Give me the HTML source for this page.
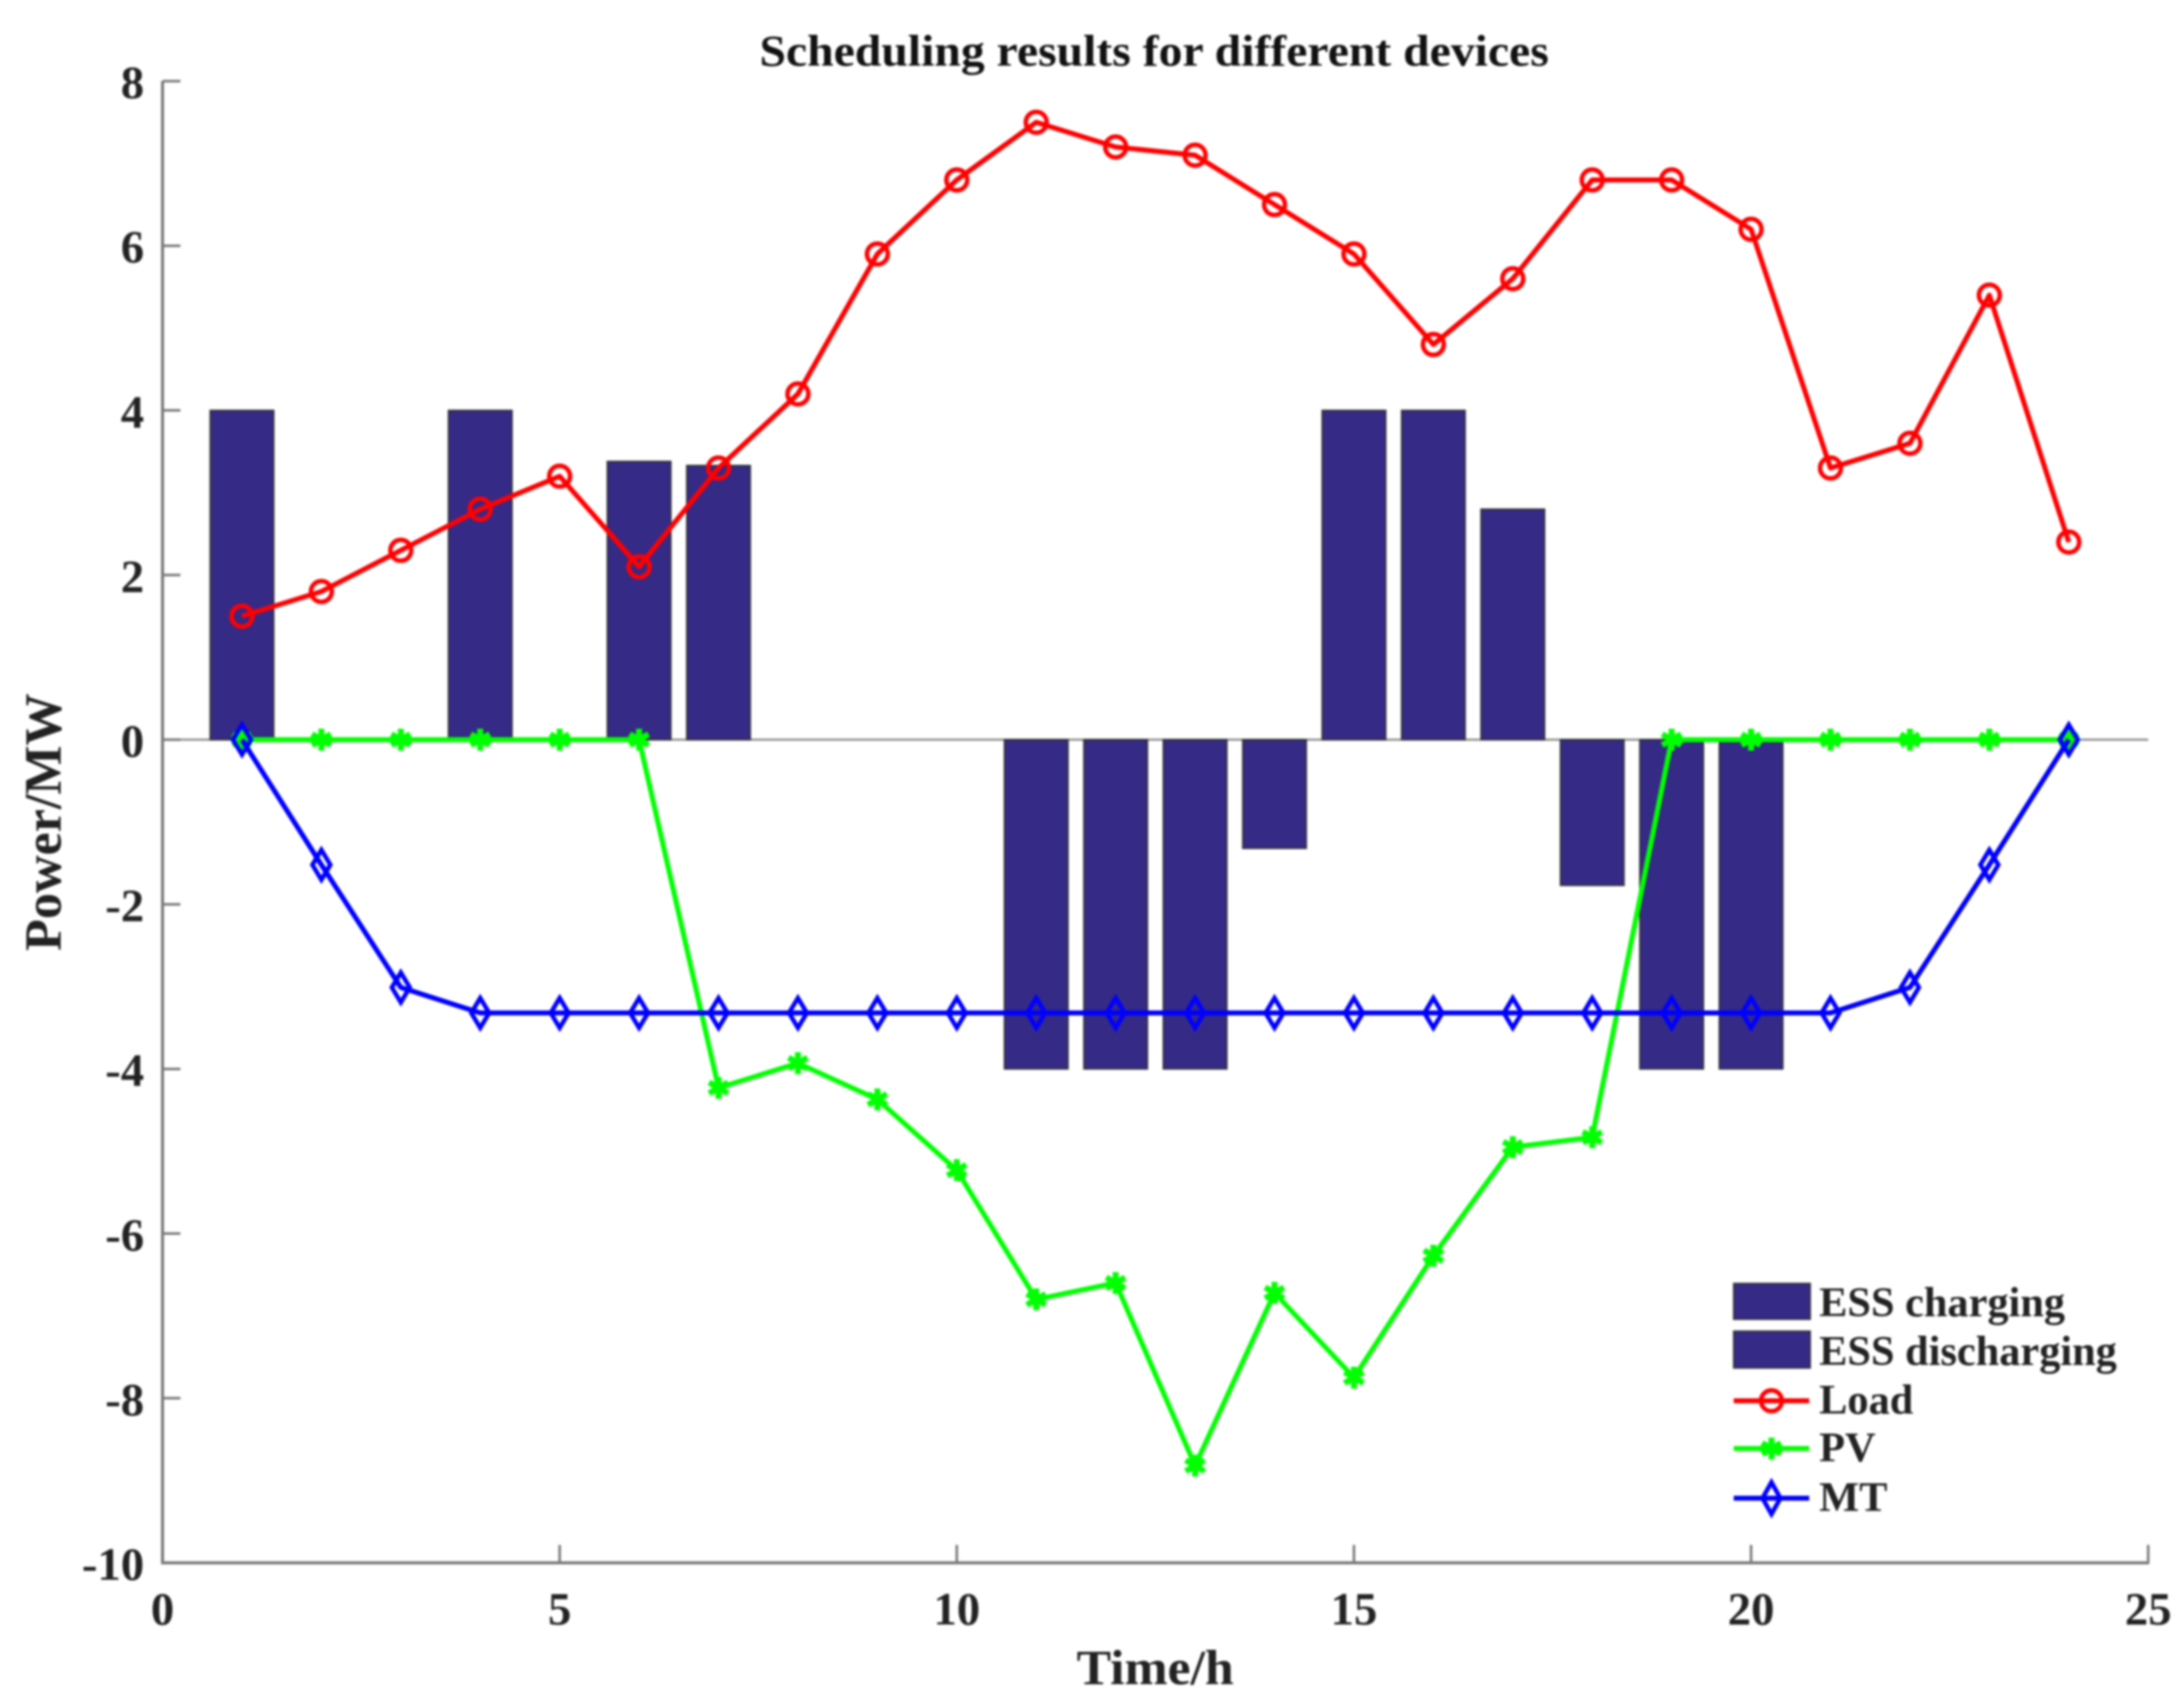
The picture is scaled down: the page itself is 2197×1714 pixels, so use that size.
<!DOCTYPE html>
<html lang="en">
<head>
<meta charset="utf-8">
<title>Scheduling results for different devices</title>
<style>
html,body{margin:0;padding:0;background:#fff;width:2197px;height:1714px;overflow:hidden}
svg{display:block;filter:blur(1px)}
text{font-family:"Liberation Serif",serif;font-weight:bold;fill:#222}
</style>
</head>
<body>
<svg id="chart" xmlns="http://www.w3.org/2000/svg" width="2197" height="1714" viewBox="0 0 2197 1714">
  <rect x="0" y="0" width="2197" height="1714" fill="#fff"/>
  <g id="axes"></g>
  <g id="bars"></g>
  <g id="series"></g>
  <text x="1161" y="66" font-size="44" text-anchor="middle" textLength="794" lengthAdjust="spacingAndGlyphs" style="fill:#111">Scheduling results for different devices</text>
  <text x="1162" y="1694" font-size="50" text-anchor="middle" textLength="158" lengthAdjust="spacingAndGlyphs">Time/h</text>
  <text transform="translate(61,827) rotate(-90)" font-size="53" text-anchor="middle" textLength="259" lengthAdjust="spacingAndGlyphs">Power/MW</text>
  <g id="legend">
    <g>
      <rect x="1744" y="1291" width="77" height="36" fill="#352a86" stroke="#333" stroke-width="1.5"/>
      <text x="1830" y="1324" font-size="42.6">ESS charging</text>
    </g>
    <g>
      <rect x="1744" y="1339" width="77" height="37" fill="#352a86" stroke="#333" stroke-width="1.5"/>
      <text x="1830" y="1373" font-size="42.6">ESS discharging</text>
    </g>
    <g>
      <line x1="1744" x2="1820" y1="1409" y2="1409" stroke="#ff0000" stroke-width="5"/>
      <circle cx="1782" cy="1409" r="10.5" fill="none" stroke="#ff0000" stroke-width="4.5"/>
      <text x="1830" y="1422" font-size="42.6">Load</text>
    </g>
    <g>
      <line x1="1744" x2="1820" y1="1457" y2="1457" stroke="#00ff00" stroke-width="5"/>
      <path d="M1782 1446V1468M1772.5 1451.5L1791.5 1462.5M1772.5 1462.5L1791.5 1451.5" fill="none" stroke="#00ff00" stroke-width="6"/>
      <text x="1830" y="1470" font-size="42.6">PV</text>
    </g>
    <g>
      <line x1="1744" x2="1820" y1="1507" y2="1507" stroke="#0000ff" stroke-width="5"/>
      <path d="M1782 1491L1791 1507L1782 1523L1773 1507Z" fill="none" stroke="#0000ff" stroke-width="4.5"/>
      <text x="1830" y="1520" font-size="42.6">MT</text>
    </g>
  </g>
</svg>
<script>
const hours = [1,2,3,4,5,6,7,8,9,10,11,12,13,14,15,16,17,18,19,20,21,22,23,24];
const loadValues = [1.5,1.8,2.3,2.8,3.2,2.1,3.3,4.2,5.9,6.8,7.5,7.2,7.1,6.5,5.9,4.8,5.6,6.8,6.8,6.2,3.3,3.6,5.4,2.4];
const pvValues = [0,0,0,0,0,0,-4.23,-3.93,-4.37,-5.23,-6.8,-6.6,-8.82,-6.72,-7.75,-6.27,-4.95,-4.83,0,0,0,0,0,0];
const mtValues = [0,-1.52,-3.01,-3.32,-3.32,-3.32,-3.32,-3.32,-3.32,-3.32,-3.32,-3.32,-3.32,-3.32,-3.32,-3.32,-3.32,-3.32,-3.32,-3.32,-3.32,-3.01,-1.52,0];
const chargingValues = [4,0,0,4,0,3.38,3.33,0,0,0,0,0,0,0,4,4,2.8,0,0,0,0,0,0,0];
const dischargingValues = [0,0,0,0,0,0,0,0,0,0,-4,-4,-4,-1.32,0,0,0,-1.77,-4,-4,0,0,0,0];
const xTicks = [0,5,10,15,20,25];
const yTicks = [8,6,4,2,0,-2,-4,-6,-8,-10];

const NS = 'http://www.w3.org/2000/svg';
const xAxis = v => 163.5 + 79.9 * v;
const yAxis = v => 744 - 82.8 * v;
const axisColor = '#777';
const barWidthHours = 0.8;

function make(tag, parent) {
  const el = document.createElementNS(NS, tag);
  parent.appendChild(el);
  return el;
}
function drawLine(parent, x1, y1, x2, y2, color, width) {
  const l = make('line', parent);
  l.setAttribute('x1', x1);
  l.setAttribute('y1', y1);
  l.setAttribute('x2', x2);
  l.setAttribute('y2', y2);
  l.setAttribute('stroke', color);
  l.setAttribute('stroke-width', width);
  return l;
}

const axesG = document.getElementById('axes');
const barsG = document.getElementById('bars');
const seriesG = document.getElementById('series');

const xLine = drawLine(axesG, xAxis(0) - 1.5, yAxis(-10), xAxis(25) + 1, yAxis(-10), axisColor, 3);


const yLine = drawLine(axesG, xAxis(0), yAxis(8), xAxis(0), yAxis(-10), axisColor, 3);


const zeroLine = drawLine(axesG, xAxis(0), yAxis(0), xAxis(25), yAxis(0), '#888', 2);



xTicks.forEach(t => {
  const tick = drawLine(axesG, xAxis(t), yAxis(-10), xAxis(t), yAxis(-10) - 18, axisColor, 2.5);
  
  
  const label = make('text', axesG);
  
  
  label.setAttribute('x', xAxis(t));
  label.setAttribute('y', 1634);
  label.setAttribute('font-size', 47);
  label.setAttribute('text-anchor', 'middle');
  label.textContent = t;
});
yTicks.forEach(t => {
  const tick = drawLine(axesG, xAxis(0), yAxis(t), xAxis(0) + 18, yAxis(t), axisColor, 2.5);
  
  
  const label = make('text', axesG);
  
  
  label.setAttribute('x', 145);
  label.setAttribute('y', yAxis(t) + 17);
  label.setAttribute('font-size', 47);
  label.setAttribute('text-anchor', 'end');
  label.textContent = t;
});

function drawBars(values, name) {
  values.forEach((v, i) => {
    if (v === 0) return;
    const left = xAxis(hours[i] - barWidthHours / 2);
    const right = xAxis(hours[i] + barWidthHours / 2);
    const top = Math.min(yAxis(v), yAxis(0));
    const bottom = Math.max(yAxis(v), yAxis(0));
    const bar = make('rect', barsG);
    
    
    bar.setAttribute('x', left);
    bar.setAttribute('y', top);
    bar.setAttribute('width', right - left);
    bar.setAttribute('height', bottom - top);
    bar.setAttribute('fill', '#352a86');
    bar.setAttribute('stroke', '#333');
    bar.setAttribute('stroke-width', 1.5);
  });
}
drawBars(chargingValues, 'bar-ess-charging');
drawBars(dischargingValues, 'bar-ess-discharging');

function drawPolyline(values, color, name) {
  const p = make('polyline', seriesG);
  
  
  p.setAttribute('points', values.map((v, i) => xAxis(hours[i]) + ',' + yAxis(v)).join(' '));
  p.setAttribute('fill', 'none');
  p.setAttribute('stroke', color);
  p.setAttribute('stroke-width', 5);
  p.setAttribute('stroke-linejoin', 'round');
}

drawPolyline(loadValues, '#ff0000', 'load-line');
loadValues.forEach((v, i) => {
  const m = make('circle', seriesG);
  
  
  m.setAttribute('cx', xAxis(hours[i]));
  m.setAttribute('cy', yAxis(v));
  m.setAttribute('r', 10.5);
  m.setAttribute('fill', 'none');
  m.setAttribute('stroke', '#ff0000');
  m.setAttribute('stroke-width', 4.5);
});

drawPolyline(pvValues, '#00ff00', 'pv-line');
pvValues.forEach((v, i) => {
  const cx = xAxis(hours[i]);
  const cy = yAxis(v);
  const m = make('path', seriesG);
  
  
  m.setAttribute('d', `M${cx} ${cy - 11}V${cy + 11}M${cx - 9.5} ${cy - 5.5}L${cx + 9.5} ${cy + 5.5}M${cx - 9.5} ${cy + 5.5}L${cx + 9.5} ${cy - 5.5}`);
  m.setAttribute('fill', 'none');
  m.setAttribute('stroke', '#00ff00');
  m.setAttribute('stroke-width', 6);
});

drawPolyline(mtValues, '#0000ff', 'mt-line');
mtValues.forEach((v, i) => {
  const cx = xAxis(hours[i]);
  const cy = yAxis(v);
  const m = make('path', seriesG);
  
  
  m.setAttribute('d', `M${cx} ${cy - 15}L${cx + 9} ${cy}L${cx} ${cy + 15}L${cx - 9} ${cy}Z`);
  m.setAttribute('fill', 'none');
  m.setAttribute('stroke', '#0000ff');
  m.setAttribute('stroke-width', 4.5);
});
</script>
</body>
</html>
